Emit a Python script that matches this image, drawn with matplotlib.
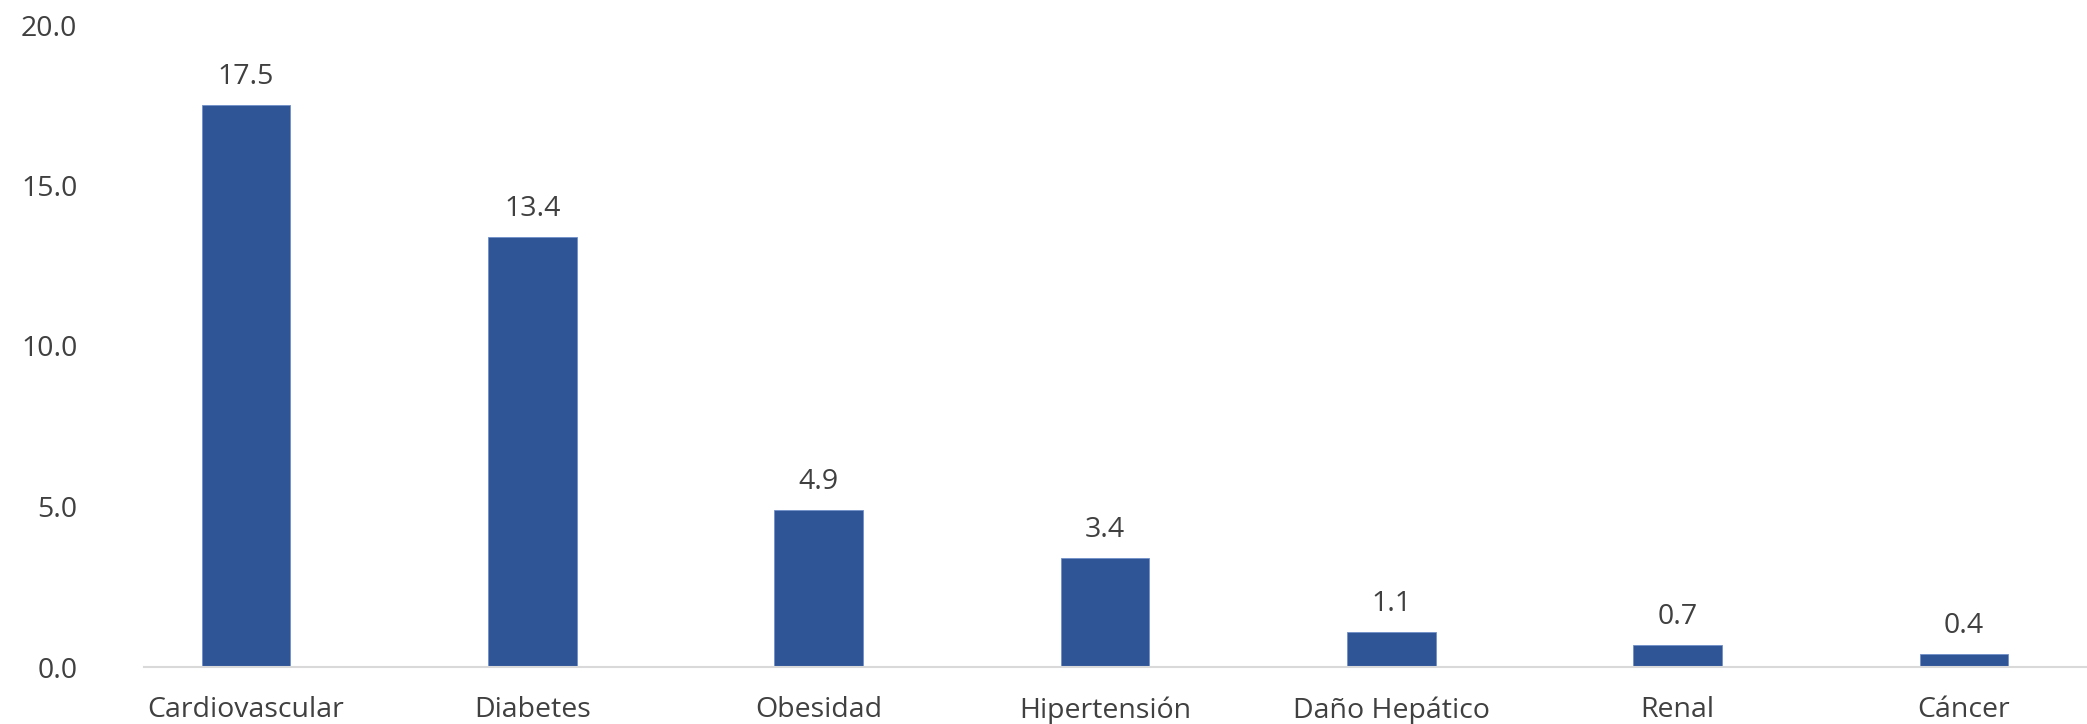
import numpy as np
import matplotlib.pyplot as plt

categories = ["Cardiovascular", "Diabetes", "Obesidad", "Hipertensión",
              "Daño Hepático", "Renal", "Cáncer"]
values = [17.5, 13.4, 4.9, 3.4, 1.1, 0.7, 0.4]
yticks = [0.0, 5.0, 10.0, 15.0, 20.0]

plt.rcParams['font.family'] = ['Open Sans', 'DejaVu Sans']

text_color = "#404040"
bar_color = "#2F5597"

fig = plt.figure(figsize=(20.87, 7.24), dpi=100)
ax = fig.add_axes([144 / 2087, 57 / 724, 1 - 144 / 2087, 642 / 724])

x = np.arange(len(categories))
bars = ax.bar(x, values, width=0.31, color=bar_color, edgecolor="#6F8FC8", linewidth=0.6, zorder=2)

# value labels above each bar
for xi, v in zip(x, values):
    ax.annotate(f"{v:.1f}", (xi, v), xytext=(0, 10), textcoords="offset points",
                ha="center", va="bottom", fontsize=20.5, color=text_color)

ax.set_ylim(0, 20)
ax.set_xlim(-0.356, 6.43)
ax.set_yticks(yticks)
ax.set_yticklabels([f"{t:.1f}" for t in yticks])
ax.set_xticks(x)
ax.set_xticklabels(categories)

ax.tick_params(axis="y", length=0, pad=48, labelsize=20.5, labelcolor=text_color)
ax.tick_params(axis="x", length=0, pad=21, labelsize=20.5, labelcolor=text_color)

for s in ["top", "right", "left"]:
    ax.spines[s].set_visible(False)
ax.spines["bottom"].set_color("#D9D9D9")
ax.spines["bottom"].set_linewidth(1.5)

fig.savefig("out.png", dpi=100)
